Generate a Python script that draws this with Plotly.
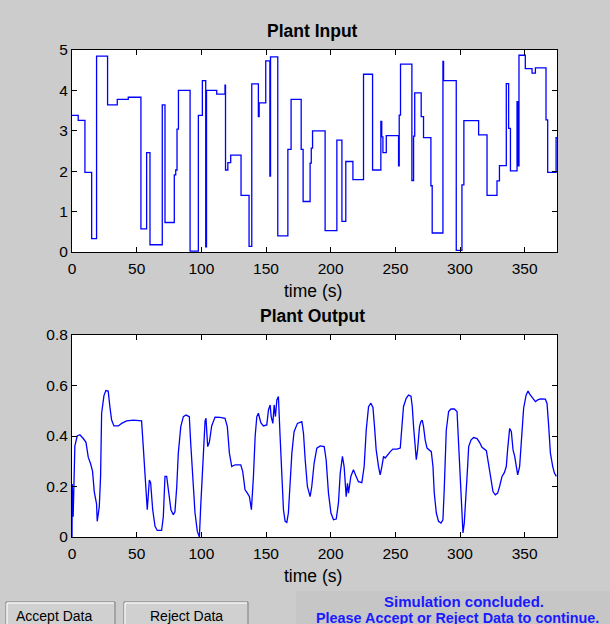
import plotly.graph_objects as go

# ---------------- data ----------------
# Plant input: step start times (s) and held levels
input_t = [0, 4.8, 10, 15.2, 19, 27.5, 35, 43.5, 53.3, 57.7, 60.3, 69.8, 71.9, 79.1, 80.2, 81.2,
           82.3, 91.3, 97.7, 100.8, 103.4, 104.0, 111.9, 118.3, 118.7, 120.5, 122.7, 130.7, 136.9,
           139.0, 144.1, 144.7, 149.8, 153.0, 153.5, 159.1, 166.9, 169.4, 177.2, 178.7, 184.1,
           185.0, 186.0, 195.7, 204.8, 208.7, 211.7, 217.2, 225.4, 232.4, 238.8, 239.5, 240.4,
           243.0, 252.5, 253.0, 254.0, 262.8, 264.1, 265.0, 270.0, 271.8, 277.5, 278.5, 286.8,
           287.3, 297.1, 301.5, 303.0, 314.4, 320.9, 328.6, 330.5, 335.8, 337.6, 339.0, 344.1,
           344.7, 345.6, 350.5, 355.7, 358.3, 366.5, 367.8, 374.3, 375.0]
input_u = [3.38, 3.26, 1.97, 0.33, 4.85, 3.64, 3.78, 3.83, 0.57, 2.46, 0.18, 3.64, 0.73, 1.91, 2.03, 3.04,
           4.00, 0.02, 3.38, 4.24, 0.13, 4.00, 3.91, 4.13, 2.03, 2.21, 2.40, 1.40, 0.14,
           4.16, 3.35, 3.69, 4.73, 1.88, 4.83, 0.40, 2.54, 3.78, 2.54, 1.25, 2.20,
           2.57, 3.00, 0.53, 2.77, 0.76, 2.24, 1.79, 4.40, 2.03, 3.23, 2.85, 2.46,
           2.88, 2.13, 3.39, 4.65, 1.77, 2.87, 3.94, 3.35, 2.83, 1.64, 0.47, 4.72,
           4.24, 0.04, 1.66, 3.25, 2.90, 1.40, 1.76, 2.14, 4.17, 3.06, 2.01, 3.72,
           2.13, 4.87, 4.54, 4.43, 4.56, 3.27, 1.97, 2.83, 2.83]

# Plant output samples
output_t = [0.0, 0.2, 0.9, 2.2, 4.0, 6.1, 8.7, 10.8, 12.6, 14.4, 15.9, 17.2, 19.0, 19.5, 21.1, 22.1,
            22.9, 24.7, 26.2, 28.0, 29.3, 30.6, 32.4, 35.8, 38.4, 42.2, 47.4, 53.8, 55.1, 56.4,
            57.2, 58.2, 59.8, 60.8, 62.4, 64.2, 65.9, 69.3, 70.6, 71.9, 73.2, 74.5, 76.5, 78.3,
            79.6, 81.0, 82.2, 84.1, 86.1, 88.2, 90.7, 91.8, 93.3, 95.1, 96.9, 98.5, 99.5, 101.1,
            102.9, 103.6, 104.9, 106.2, 108.0, 110.6, 114.5, 118.3, 120.1, 121.7, 123.5, 126.1,
            130.5, 132.0, 133.8, 135.6, 137.2, 138.7, 140.3, 141.6, 142.9, 144.1, 146.0, 148.0,
            150.6, 151.9, 153.2, 154.0, 155.3, 156.3, 157.3, 158.4, 159.6, 160.9, 162.2, 163.5,
            164.8, 166.1, 167.3, 168.7, 170.0, 171.7, 174.3, 177.7, 179.0, 180.3, 182.0, 184.1,
            185.4, 187.2, 189.3, 191.9, 195.0, 196.5, 198.3, 200.2, 202.2, 204.3, 206.0, 207.4,
            209.1, 210.4, 211.2, 212.0, 213.0, 213.8, 215.6, 217.6, 219.7, 221.5, 224.1, 225.9,
            227.5, 229.3, 231.1, 232.7, 233.9, 235.2, 237.0, 238.3, 239.6, 240.9, 242.2, 244.0,
            246.1, 248.1, 251.2, 253.8, 255.1, 256.3, 258.4, 260.2, 262.1, 263.1, 264.1, 265.4,
            266.2, 267.2, 268.7, 269.8, 270.8, 271.8, 273.1, 274.5, 276.5, 277.8, 279.1, 280.1,
            281.7, 283.4, 285.3, 286.8, 287.8, 289.4, 291.2, 293.0, 295.6, 297.7, 298.9, 300.2,
            301.5, 302.3, 303.3, 304.9, 305.9, 306.7, 308.5, 310.5, 313.2, 315.2, 317.0, 320.4,
            322.1, 324.0, 325.5, 327.3, 329.1, 330.6, 332.5, 334.3, 335.8, 336.8, 338.4, 339.7,
            341.0, 342.3, 343.6, 344.6, 346.1, 348.0, 349.2, 351.1, 352.6, 353.9, 355.7, 358.3,
            360.1, 362.1, 366.0, 367.3, 368.6, 369.9, 371.7, 373.0, 374.5]
output_y = [0.0, 0.21, 0.08, 0.36, 0.40, 0.405, 0.39, 0.375, 0.315, 0.29, 0.26, 0.18, 0.13, 0.062, 0.12, 0.24,
            0.49, 0.56, 0.58, 0.578, 0.516, 0.464, 0.44, 0.44, 0.45, 0.46, 0.463, 0.46, 0.358, 0.255,
            0.147, 0.108, 0.226, 0.215, 0.108, 0.042, 0.026, 0.026, 0.08, 0.24, 0.24, 0.185, 0.108, 0.088,
            0.10, 0.20, 0.332, 0.437, 0.477, 0.483, 0.477, 0.37, 0.25, 0.096, 0.022, 0.0, 0.12, 0.306,
            0.46, 0.47, 0.358, 0.375, 0.44, 0.475, 0.474, 0.47, 0.437, 0.332, 0.279, 0.286,
            0.286, 0.259, 0.187, 0.174, 0.16, 0.108, 0.24, 0.398, 0.477, 0.49, 0.453, 0.44,
            0.444, 0.503, 0.523, 0.477, 0.45, 0.523, 0.477, 0.543, 0.556, 0.398, 0.253, 0.108,
            0.062, 0.058, 0.095, 0.226, 0.332, 0.417, 0.45, 0.457, 0.41, 0.306, 0.20, 0.16,
            0.20, 0.292, 0.352, 0.361, 0.358, 0.306, 0.174, 0.095, 0.068, 0.071, 0.134, 0.253,
            0.319, 0.279, 0.187, 0.16, 0.213, 0.174, 0.24, 0.266, 0.24, 0.219, 0.215, 0.279,
            0.424, 0.516, 0.53, 0.513, 0.437, 0.345, 0.279, 0.246, 0.279, 0.319, 0.313, 0.326,
            0.338, 0.348, 0.348, 0.352, 0.424, 0.516, 0.549, 0.562, 0.558, 0.516, 0.437, 0.332,
            0.306, 0.345, 0.437, 0.457, 0.463, 0.437, 0.384, 0.352, 0.342, 0.338, 0.279, 0.174,
            0.095, 0.062, 0.055, 0.068, 0.187, 0.424, 0.497, 0.507, 0.507, 0.497, 0.371, 0.213,
            0.068, 0.016, 0.055, 0.174, 0.279, 0.358, 0.384, 0.394, 0.39, 0.374, 0.355, 0.342,
            0.292, 0.219, 0.18, 0.167, 0.174, 0.20, 0.24, 0.255, 0.279, 0.345, 0.43, 0.417,
            0.345, 0.319, 0.266, 0.246, 0.279, 0.424, 0.51, 0.562, 0.578, 0.566, 0.553, 0.536,
            0.543, 0.547, 0.546, 0.529, 0.437, 0.332, 0.279, 0.253, 0.24]

input_yticks = [0, 1, 2, 3, 4, 5]
output_yticks = [0, 0.2, 0.4, 0.6, 0.8]
output_yticklabels = ["0", "0.2", "0.4", "0.6", "0.8"]
x_ticks = [0, 50, 100, 150, 200, 250, 300, 350]

# ---------------- figure ----------------
W, H = 610, 624
BG = "#cccccc"
FONT = "Liberation Sans, Arial, sans-serif"

def px(x):
    return x / W

def py(y):
    return 1 - y / H

fig = go.Figure()
fig.add_trace(go.Scatter(x=input_t, y=input_u, mode="lines", line=dict(color="#0000ff", width=1.3, shape="hv"),
                         xaxis="x", yaxis="y", showlegend=False, hoverinfo="skip"))
fig.add_trace(go.Scatter(x=output_t, y=output_y, mode="lines", line=dict(color="#0000ff", width=1.3),
                         xaxis="x2", yaxis="y2", showlegend=False, hoverinfo="skip"))

axis_common = dict(showline=True, linecolor="black", linewidth=1, mirror="ticks", ticks="inside",
                   ticklen=5, tickcolor="black", showgrid=False, zeroline=False, automargin=False,
                   tickfont=dict(family=FONT, size=15.5, color="black"), fixedrange=True)

fig.update_layout(
    width=W, height=H, margin=dict(l=0, r=0, t=0, b=0, pad=0),
    paper_bgcolor=BG, plot_bgcolor="white",
    xaxis=dict(domain=[px(72), px(557)], anchor="y", range=[0, 375], tickvals=x_ticks,
               ticklabelstandoff=2, **axis_common),
    yaxis=dict(domain=[py(252), py(50)], anchor="x", range=[0, 5], tickvals=input_yticks, **axis_common),
    xaxis2=dict(domain=[px(72), px(557)], anchor="y2", range=[0, 375], tickvals=x_ticks,
                ticklabelstandoff=2, **axis_common),
    yaxis2=dict(domain=[py(537), py(335)], anchor="x2", range=[0, 0.8], tickvals=output_yticks,
                ticktext=output_yticklabels, **axis_common),
)

def text(x, y, s, size=14, bold=False, color="black", xanchor="center"):
    fig.add_annotation(x=px(x), y=py(y), xref="paper", yref="paper", text=f"<b>{s}</b>" if bold else s,
                       showarrow=False, xanchor=xanchor, yanchor="middle",
                       font=dict(family=FONT, size=size, color=color))

text(313, 31, "Plant Input", size=17.5, bold=True)
text(313, 291, "time (s)", size=17.5)
text(313, 316, "Plant Output", size=17.5, bold=True)
text(313, 576, "time (s)", size=17.5)

# bottom control panel
shapes = []
shapes.append(dict(type="rect", xref="paper", yref="paper", x0=px(296), x1=px(612), y0=py(626), y1=py(591),
                   fillcolor="#c6c6c6", line=dict(width=0), layer="below"))
for (x0, x1) in [(6, 115), (124, 248)]:
    shapes.append(dict(type="rect", xref="paper", yref="paper", x0=px(x0), x1=px(x1), y0=py(626), y1=py(602),
                       fillcolor="#d0d0d0", line=dict(width=1, color="#7a7a7a"), layer="below"))
    shapes.append(dict(type="line", xref="paper", yref="paper", x0=px(x0 + 1), x1=px(x1 - 1), y0=py(603), y1=py(603),
                       line=dict(width=1.5, color="#f4f4f4")))
    shapes.append(dict(type="line", xref="paper", yref="paper", x0=px(x0 + 1), x1=px(x0 + 1), y0=py(603), y1=py(626),
                       line=dict(width=1.5, color="#f4f4f4")))
fig.update_layout(shapes=shapes)

text(53.5, 616, "Accept Data", size=14)
text(186.5, 616, "Reject Data", size=14)
text(464, 601, "Simulation concluded.", size=15, bold=True, color="#1a1aff")
text(314, 618, "Please Accept or Reject Data to continue.", size=14.4, bold=True, color="#1a1aff", xanchor="left")

fig.write_html("out.html")
